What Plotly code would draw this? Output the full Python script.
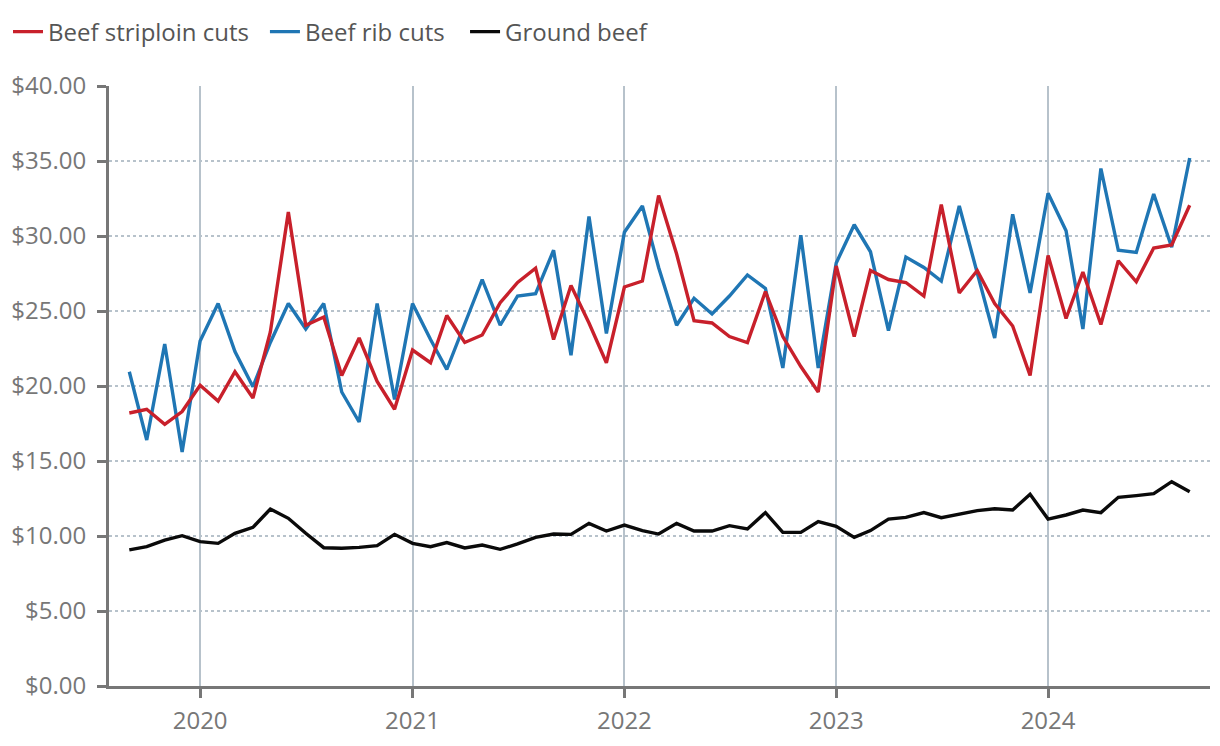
import pandas as pd
import plotly.graph_objects as go

months = pd.date_range("2019-09-01", periods=61, freq="MS")

striploin = [18.2, 18.45, 17.45, 18.3, 20.05, 19.0, 20.95, 19.2, 23.6, 31.6,
             24.05, 24.6, 20.7, 23.2, 20.3, 18.45, 22.4, 21.55, 24.7, 22.9,
             23.4, 25.55, 26.9, 27.85, 23.1, 26.7, 24.2, 21.55, 26.6, 27.0,
             32.7, 28.8, 24.35, 24.2, 23.3, 22.9, 26.3, 23.3, 21.3, 19.6,
             28.0, 23.3, 27.7, 27.1, 26.9, 26.0, 32.1, 26.2, 27.7, 25.5,
             24.0, 20.7, 28.7, 24.5, 27.6, 24.1, 28.35, 26.95, 29.2, 29.4, 32.05]

rib = [20.95, 16.4, 22.8, 15.6, 23.0, 25.5, 22.3, 19.95, 22.9, 25.5,
       23.8, 25.5, 19.6, 17.6, 25.5, 19.1, 25.5, 23.1, 21.1, 24.1,
       27.1, 24.05, 26.0, 26.15, 29.05, 22.05, 31.3, 23.5, 30.25, 32.0,
       27.9, 24.05, 25.85, 24.8, 26.0, 27.4, 26.5, 21.2, 30.05, 21.2,
       28.2, 30.75, 28.95, 23.7, 28.6, 27.9, 27.0, 32.0, 27.6, 23.2,
       31.45, 26.2, 32.85, 30.35, 23.8, 34.5, 29.05, 28.9, 32.8, 29.25, 35.2]

ground = [9.07, 9.29, 9.73, 10.02, 9.62, 9.51, 10.18, 10.58, 11.8, 11.18,
          10.18, 9.22, 9.18, 9.24, 9.36, 10.11, 9.51, 9.29, 9.56, 9.2,
          9.4, 9.11, 9.47, 9.91, 10.13, 10.11, 10.84, 10.33, 10.73, 10.36,
          10.13, 10.84, 10.33, 10.33, 10.69, 10.47, 11.56, 10.24, 10.24, 10.96,
          10.65, 9.91, 10.36, 11.13, 11.24, 11.56, 11.22, 11.47, 11.69, 11.82,
          11.73, 12.78, 11.13, 11.4, 11.73, 11.56, 12.58, 12.69, 12.82, 13.62, 12.95]

series_names = ["Beef striploin cuts", "Beef rib cuts", "Ground beef"]
series_values = [striploin, rib, ground]
series_colors = ["#c8202b", "#1f76b4", "#0a0a0a"]
legend_ids = ["legend", "legend2", "legend3"]
legend_x = [0.0, 0.2120, 0.3771]
draw_order = [1, 0, 2]  # rib drawn first so striploin sits on top

FONT = "Open Sans"
TICK_COLOR = "#777777"

fig = go.Figure()
for i in draw_order:
    fig.add_trace(go.Scatter(x=months, y=series_values[i], name=series_names[i],
                             mode="lines",
                             line=dict(color=series_colors[i], width=3.4),
                             legend=legend_ids[i]))

legend_common = dict(orientation="h", xref="container", yref="container",
                     y=0.998, xanchor="left", yanchor="top",
                     font=dict(family=FONT, size=24, color="#555555"),
                     bgcolor="rgba(0,0,0,0)", itemwidth=30)

layout_legends = {}
for lid, lx in zip(legend_ids, legend_x):
    layout_legends[lid] = dict(legend_common, x=lx)

fig.update_layout(
    width=1212, height=738,
    margin=dict(l=101, r=10, t=78, b=60, autoexpand=False),
    paper_bgcolor="white", plot_bgcolor="white",
    font=dict(family=FONT, size=24, color=TICK_COLOR),
    showlegend=True,
    **layout_legends,
    xaxis=dict(
        type="date",
        range=["2019-07-28", "2024-10-06"],
        tick0="2020-01-01", dtick="M12", tickformat="%Y",
        showgrid=True, gridcolor="#b7c2cb", gridwidth=2,
        showline=True, linecolor=TICK_COLOR, linewidth=3,
        ticks="outside", ticklen=9, tickwidth=3, tickcolor=TICK_COLOR,
        tickfont=dict(family=FONT, size=24, color=TICK_COLOR),
        ticklabelstandoff=2,
        zeroline=False, automargin=False,
    ),
    yaxis=dict(
        range=[0, 40], dtick=5, tickformat="$.2f",
        showgrid=True, gridcolor="#b7c2cb", gridwidth=1.5, griddash="3px,3px",
        showline=True, linecolor=TICK_COLOR, linewidth=3,
        ticks="outside", ticklen=9, tickwidth=3, tickcolor=TICK_COLOR,
        tickfont=dict(family=FONT, size=24, color=TICK_COLOR),
        ticklabelstandoff=6,
        zeroline=False, automargin=False,
    ),
)

fig.write_html("out.html")
